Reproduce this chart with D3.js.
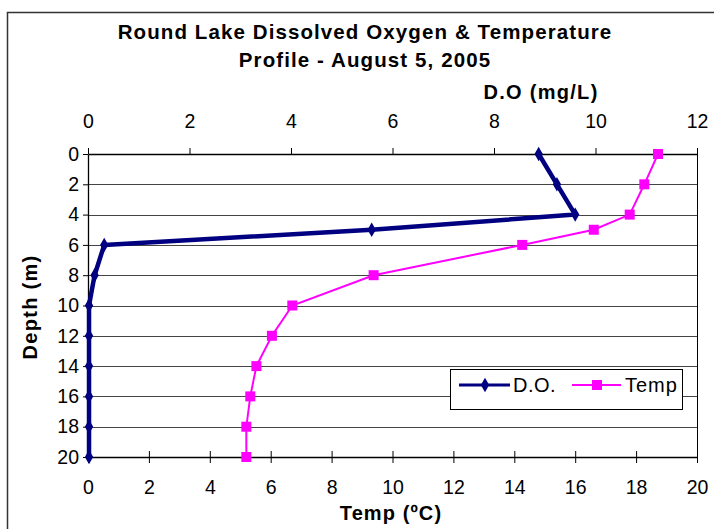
<!DOCTYPE html>
<html>
<head>
<meta charset="utf-8">
<script src="https://cdn.jsdelivr.net/npm/d3@7"></script>
<style>
  body { margin: 0; background: #fff; }
  text { font-family: "Liberation Sans", Arial, sans-serif; fill: #000; }
</style>
</head>
<body>
<svg id="chart" width="714" height="529"></svg>
<script>
/*
 * Data
 */
var depths   = [0, 2, 4, 5, 6, 8, 10, 12, 14, 16, 18, 20];
var doValues = [8.88, 9.24, 9.6, 5.59, 0.32, 0.13, 0.02, 0.02, 0.02, 0.02, 0.02, 0.02];
var depthsTemp = [0, 2, 4, 5, 6, 8, 10, 12, 14, 16, 18, 20];
var tempValues = [18.72, 18.27, 17.79, 16.61, 14.26, 9.38, 6.71, 6.04, 5.53, 5.33, 5.2, 5.2];
var doTicks    = [0, 2, 4, 6, 8, 10, 12];
var tempTicks  = [0, 2, 4, 6, 8, 10, 12, 14, 16, 18, 20];
var depthTicks = [0, 2, 4, 6, 8, 10, 12, 14, 16, 18, 20];

/*
 * Style
 */
var PLOT = { left: 88, right: 697, top: 154, bottom: 457 },
    DO_COLOR = '#000080',
    TEMP_COLOR = '#FF00FF',
    FONT = 19.5;

var svg = d3.select('#chart');

// chart frame
svg.append('rect')
    .attr('x', 7.5).attr('y', 12.5)
    .attr('width', 720).attr('height', 530)
    .attr('fill', '#fff')
    .attr('stroke', '#333')
    .attr('stroke-width', 1.5);

/*
 * Scales
 */
var doScale = d3.scaleLinear().domain([0, 12]).range([PLOT.left, PLOT.right]);
var tempScale = d3.scaleLinear().domain([0, 20]).range([PLOT.left, PLOT.right]);
var depthScale = d3.scaleLinear().domain([0, 20]).range([PLOT.top, PLOT.bottom]);

// gridlines
svg.append('g').selectAll('line')
    .data(depthTicks.slice(1, -1))
    .enter().append('line')
    .attr('x1', PLOT.left).attr('x2', PLOT.right)
    .attr('y1', function (d) { return Math.round(depthScale(d)) + 0.5; })
    .attr('y2', function (d) { return Math.round(depthScale(d)) + 0.5; })
    .attr('stroke', '#444')
    .attr('stroke-width', 1);

// right border of plot
svg.append('line')
    .attr('x1', PLOT.right + 0.5).attr('x2', PLOT.right + 0.5)
    .attr('y1', PLOT.top).attr('y2', PLOT.bottom)
    .attr('stroke', '#000');

/*
 * Axes
 */
function styleAxis(g) {
    g.select('.domain').attr('stroke', '#000').attr('stroke-width', 1.3);
    g.selectAll('.tick line').attr('stroke', '#000');
    g.selectAll('.tick text')
        .style('font-size', FONT + 'px')
        .style('font-family', '"Liberation Sans", Arial, sans-serif');
}

var topAxis = svg.append('g')
    .attr('transform', 'translate(0,' + PLOT.top + ')')
    .call(d3.axisTop(doScale).tickValues(doTicks).tickSize(6).tickSizeOuter(0).tickPadding(20));
styleAxis(topAxis);

var bottomAxis = svg.append('g')
    .attr('transform', 'translate(0,' + PLOT.bottom + ')')
    .call(d3.axisBottom(tempScale).tickValues(tempTicks).tickSize(6).tickSizeOuter(0).tickPadding(17));
styleAxis(bottomAxis);
bottomAxis.selectAll('.tick line').attr('y1', -6);

var leftAxis = svg.append('g')
    .attr('transform', 'translate(' + PLOT.left + ',0)')
    .call(d3.axisLeft(depthScale).tickValues(depthTicks).tickSize(5).tickSizeOuter(0).tickPadding(4));
styleAxis(leftAxis);

/*
 * Series
 */
var line = d3.line();

var doPts = depths.map(function (d, i) { return [doScale(doValues[i]), depthScale(d)]; });
var tempPts = depthsTemp.map(function (d, i) { return [tempScale(tempValues[i]), depthScale(d)]; });

svg.append('path')
    .attr('d', line(tempPts))
    .attr('fill', 'none')
    .attr('stroke', TEMP_COLOR)
    .attr('stroke-width', 2);

svg.append('g').selectAll('rect')
    .data(tempPts)
    .enter().append('rect')
    .attr('x', function (d) { return d[0] - 5; })
    .attr('y', function (d) { return d[1] - 5; })
    .attr('width', 10).attr('height', 10)
    .attr('fill', TEMP_COLOR);

svg.append('path')
    .attr('d', line(doPts))
    .attr('fill', 'none')
    .attr('stroke', DO_COLOR)
    .attr('stroke-width', 4.5)
    .attr('stroke-linejoin', 'round');

var diamond = d3.symbol().type(d3.symbolDiamond).size(60);
svg.append('g').selectAll('path')
    .data(doPts)
    .enter().append('path')
    .attr('d', diamond)
    .attr('transform', function (d) { return 'translate(' + d[0] + ',' + d[1] + ')'; })
    .attr('fill', DO_COLOR);

/*
 * Titles
 */
function boldText(x, y, size, spacing, str) {
    return svg.append('text')
        .attr('x', x).attr('y', y)
        .attr('text-anchor', 'middle')
        .style('font-size', size + 'px').style('font-weight', 'bold')
        .style('letter-spacing', spacing + 'px')
        .text(str);
}
boldText(365, 39, 20.5, 1.1, 'Round Lake Dissolved Oxygen & Temperature');
boldText(365, 67, 20.5, 1.1, 'Profile - August 5, 2005');
boldText(541, 99, 20, 1.3, 'D.O (mg/L)');
boldText(391, 520, 20, 1.1, 'Temp (ºC)');
boldText(0, 0, 20, 1.3, 'Depth (m)')
    .attr('transform', 'translate(37,307) rotate(-90)');

/*
 * Legend
 */
var legend = svg.append('g');
legend.append('rect')
    .attr('x', 450.5).attr('y', 369.5)
    .attr('width', 232).attr('height', 40)
    .attr('fill', '#fff')
    .attr('stroke', '#000');
legend.append('line')
    .attr('x1', 459).attr('x2', 510).attr('y1', 385).attr('y2', 385)
    .attr('stroke', DO_COLOR).attr('stroke-width', 3);
legend.append('path')
    .attr('d', diamond)
    .attr('transform', 'translate(485,385)')
    .attr('fill', DO_COLOR);
legend.append('text')
    .attr('x', 513).attr('y', 392)
    .style('font-size', '20px')
    .style('letter-spacing', '0.5px')
    .text('D.O.');
legend.append('line')
    .attr('x1', 572).attr('x2', 621).attr('y1', 385).attr('y2', 385)
    .attr('stroke', TEMP_COLOR).attr('stroke-width', 2);
legend.append('rect')
    .attr('x', 592).attr('y', 380)
    .attr('width', 10).attr('height', 10)
    .attr('fill', TEMP_COLOR);
legend.append('text')
    .attr('x', 625).attr('y', 392)
    .style('font-size', '20px')
    .style('letter-spacing', '1px')
    .text('Temp');
</script>
</body>
</html>
